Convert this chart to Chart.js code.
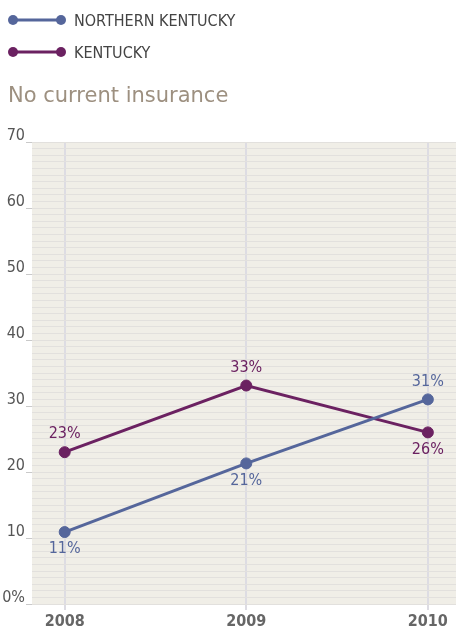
<!DOCTYPE html>
<html>
<head>
<meta charset="utf-8">
<script src="https://cdn.jsdelivr.net/npm/chart.js@4"></script>
<style>
  body { margin: 0; background: #fff; }
  #wrap { position: relative; width: 456px; height: 628px; }
  #chart { position: absolute; left: 0; top: 0; }
  .legend { position: absolute; left: 0; height: 20px; display: flex; align-items: center;
            font: 16px 'DejaVu Sans Condensed', sans-serif; color: #444; }
  .legend svg { margin-left: 8px; margin-right: 8px; }
  #title { position: absolute; left: 8px; top: 83px; font: 21px 'DejaVu Sans', sans-serif; color: #9d9080; }
</style>
</head>
<body>
<div id="wrap">
  <canvas id="chart" width="456" height="628"></canvas>
  <div id="legend"></div>
  <div id="title">No current insurance</div>
</div>
<script>
const years = [2008, 2009, 2010];
const northernKentucky = [10.9, 21.3, 31];
const kentucky = [23, 33.1, 26];
const seriesNames = ['NORTHERN KENTUCKY', 'KENTUCKY'];
const seriesColors = ['#55669b', '#6b2161'];
const yTicks = [0, 10, 20, 30, 40, 50, 60, 70];

const FONT = "'DejaVu Sans Condensed', sans-serif";

// legend built as html (line with a dot on each end)
const legend = document.getElementById('legend');
seriesNames.forEach((name, i) => {
    const row = document.createElement('div');
    row.className = 'legend';
    row.style.top = (10 + i * 32) + 'px';
    row.innerHTML = '<svg width="58" height="14"><line x1="5" y1="7" x2="53" y2="7" stroke="' + seriesColors[i] +
        '" stroke-width="3"/><circle cx="5" cy="7" r="5" fill="' + seriesColors[i] + '"/><circle cx="53" cy="7" r="5" fill="' +
        seriesColors[i] + '"/></svg><span>' + name + '</span>';
    legend.appendChild(row);
});

const bgPlugin = {
    id: 'bg',
    beforeDraw(chart) {
        const a = chart.chartArea;
        chart.ctx.save();
        chart.ctx.fillStyle = '#f0eee7';
        chart.ctx.fillRect(a.left, a.top, a.right - a.left, a.bottom - a.top);
        chart.ctx.restore();
    }
};

const valueLabels = {
    id: 'valueLabels',
    afterDatasetsDraw(chart) {
        const ctx = chart.ctx;
        ctx.save();
        ctx.font = '16px ' + FONT;
        ctx.textAlign = 'center';
        ctx.textBaseline = 'middle';
        chart.data.datasets.forEach((ds, i) => {
            chart.getDatasetMeta(i).data.forEach((pt, j) => {
                ctx.fillStyle = ds.borderColor;
                const dy = ds.labelSide[j] === 'above' ? -18 : 17;
                ctx.fillText(Math.round(ds.data[j].y) + '%', pt.x, pt.y + dy);
            });
        });
        ctx.restore();
    }
};

new Chart(document.getElementById('chart'), {
    type: 'line',
    data: {
        datasets: [
            {
                label: seriesNames[0],
                data: years.map((y, i) => ({ x: y, y: northernKentucky[i] })),
                borderColor: seriesColors[0],
                backgroundColor: seriesColors[0],
                labelSide: ['below', 'below', 'above']
            },
            {
                label: seriesNames[1],
                data: years.map((y, i) => ({ x: y, y: kentucky[i] })),
                borderColor: seriesColors[1],
                backgroundColor: seriesColors[1],
                labelSide: ['above', 'above', 'below']
            }
        ]
    },
    options: {
        responsive: false,
        animation: false,
        layout: { autoPadding: false, padding: { top: 142, right: 0, left: 0, bottom: 0 } },
        elements: {
            line: { borderWidth: 3, tension: 0 },
            point: { radius: 5.5, hoverRadius: 5.5 }
        },
        plugins: { legend: { display: false }, tooltip: { enabled: false } },
        scales: {
            x: {
                type: 'linear',
                min: 2007.82,
                max: 2010.155,
                afterBuildTicks: (s) => { s.ticks = years.map(v => ({ value: v })); },
                afterFit: (s) => { s.height = 24; s.paddingLeft = 0; s.paddingRight = 0; },
                grid: { color: '#dddce3', lineWidth: 2, tickLength: 6, tickColor: '#dddce3' },
                border: { display: false },
                ticks: {
                    color: '#666',
                    padding: 2,
                    font: { family: FONT, size: 16, weight: 'bold' },
                    callback: (v) => String(v)
                }
            },
            y: {
                min: 0,
                max: 70,
                afterBuildTicks: (s) => {
                    const t = [];
                    for (let v = 0; v <= 70; v++) t.push({ value: v });
                    s.ticks = t;
                },
                afterFit: (s) => { s.width = 32; s.paddingTop = 0; s.paddingBottom = 0; },
                grid: {
                    color: '#e2e0dd',
                    lineWidth: 1,
                    tickLength: 6,
                    tickColor: (c) => yTicks.includes(c.tick.value) ? '#c9c9c9' : 'rgba(0,0,0,0)'
                },
                border: { display: false },
                ticks: {
                    autoSkip: false,
                    color: '#555',
                    padding: 1,
                    labelOffset: -6,
                    font: { family: FONT, size: 16 },
                    callback: (v) => yTicks.includes(v) ? (v === 0 ? '0%' : String(v)) : ''
                }
            }
        }
    },
    plugins: [bgPlugin, valueLabels]
});
</script>
</body>
</html>
